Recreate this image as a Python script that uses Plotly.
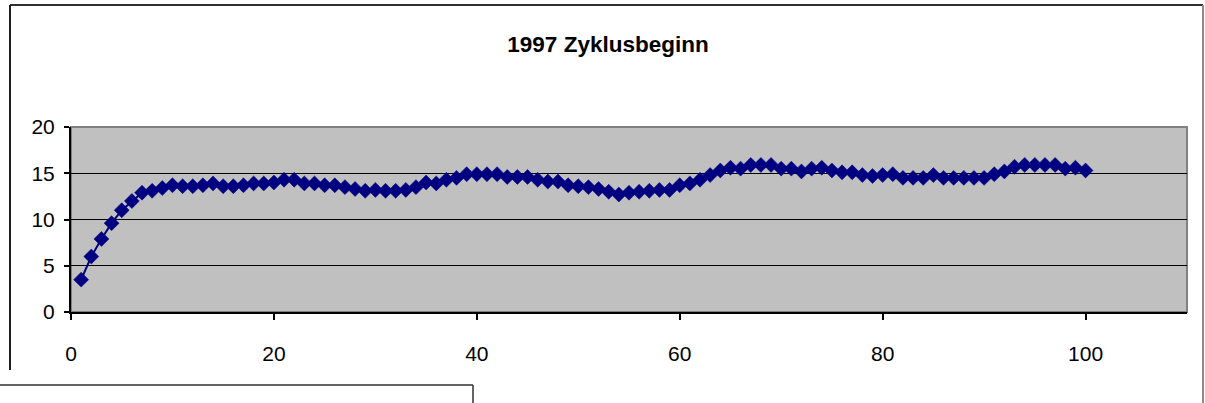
import plotly.graph_objects as go

# Cycle day and measured value per day
tage = list(range(1, 101))
werte = [
    3.5, 6.0, 7.9, 9.6, 11.0, 12.0, 12.9, 13.1, 13.4, 13.7,
    13.6, 13.6, 13.7, 13.9, 13.6, 13.6, 13.7, 13.9, 13.9, 14.0,
    14.3, 14.3, 13.9, 13.9, 13.7, 13.7, 13.5, 13.3, 13.1, 13.2,
    13.1, 13.1, 13.2, 13.5, 14.0, 13.9, 14.3, 14.5, 14.9, 14.9,
    14.9, 14.9, 14.6, 14.6, 14.6, 14.3, 14.1, 14.1, 13.7, 13.6,
    13.5, 13.3, 13.0, 12.7, 12.9, 13.0, 13.1, 13.2, 13.2, 13.7,
    13.9, 14.3, 14.8, 15.3, 15.6, 15.5, 15.9, 15.9, 15.9, 15.5,
    15.5, 15.2, 15.5, 15.6, 15.3, 15.1, 15.1, 14.8, 14.7, 14.8,
    14.9, 14.5, 14.5, 14.5, 14.8, 14.5, 14.5, 14.5, 14.5, 14.5,
    14.9, 15.2, 15.7, 15.9, 15.9, 15.9, 15.9, 15.5, 15.6, 15.3,
]
titel = "1997 Zyklusbeginn"
x_ticks = [0, 20, 40, 60, 80, 100]
y_ticks = [0, 5, 10, 15, 20]

W, H = 1205, 403
L, R, T, B = 71, 18, 127, 91
PW, PH = W - L - R, H - T - B


def px(x):
    return (x - L) / PW


def py(y):
    return (H - B - y) / PH


FONT = "Liberation Sans, Arial, sans-serif"
NAVY = "#000080"

fig = go.Figure(
    go.Scatter(
        x=tage,
        y=werte,
        mode="lines+markers",
        line=dict(color=NAVY, width=2),
        marker=dict(symbol="diamond", size=11.5, color=NAVY,
                    line=dict(width=0.5, color=NAVY)),
        cliponaxis=False,
    )
)

frame = []
# outer chart frame
frame.append(dict(type="line", xref="paper", yref="paper",
                  x0=px(10), x1=px(1203), y0=py(5), y1=py(5),
                  line=dict(color="#303030", width=2)))
frame.append(dict(type="line", xref="paper", yref="paper",
                  x0=px(10), x1=px(10), y0=py(5), y1=py(370),
                  line=dict(color="#202020", width=2)))
frame.append(dict(type="line", xref="paper", yref="paper",
                  x0=px(1203), x1=px(1203), y0=py(5), y1=py(403),
                  line=dict(color="#8a8a8a", width=2)))
# neighbouring chart frame below
frame.append(dict(type="line", xref="paper", yref="paper",
                  x0=px(0), x1=px(473), y0=py(385), y1=py(385),
                  line=dict(color="#303030", width=1.5)))
frame.append(dict(type="line", xref="paper", yref="paper",
                  x0=px(473), x1=px(473), y0=py(385), y1=py(403),
                  line=dict(color="#303030", width=1.5)))
# plot area border
frame.append(dict(type="rect", xref="paper", yref="paper",
                  x0=0, x1=1, y0=0, y1=1, layer="below",
                  line=dict(color="#808080", width=2)))

fig.update_layout(
    width=W,
    height=H,
    margin=dict(l=L, r=R, t=T, b=B, pad=0),
    paper_bgcolor="white",
    plot_bgcolor="#C0C0C0",
    showlegend=False,
    font=dict(family=FONT, color="black", size=21),
    title=dict(
        text="<b>" + titel + "</b>",
        x=608 / W,
        xanchor="center",
        y=1 - 44 / H,
        yanchor="middle",
        font=dict(family=FONT, size=22.5, color="black"),
    ),
    shapes=frame,
    xaxis=dict(
        range=[0, 110],
        tickvals=x_ticks,
        ticks="outside",
        ticklen=6,
        tickwidth=1.5,
        tickcolor="black",
        showgrid=False,
        zeroline=False,
        showline=True,
        linecolor="black",
        linewidth=2,
        ticklabelstandoff=16,
        tickfont=dict(family=FONT, size=21),
        fixedrange=True,
    ),
    yaxis=dict(
        range=[0, 20],
        tickvals=y_ticks,
        ticks="outside",
        ticklen=5,
        tickwidth=1.5,
        tickcolor="black",
        showgrid=True,
        gridcolor="black",
        gridwidth=1,
        zeroline=False,
        showline=True,
        linecolor="black",
        linewidth=2,
        ticklabelstandoff=5,
        tickfont=dict(family=FONT, size=21),
        fixedrange=True,
    ),
)

fig.write_html("out.html")
